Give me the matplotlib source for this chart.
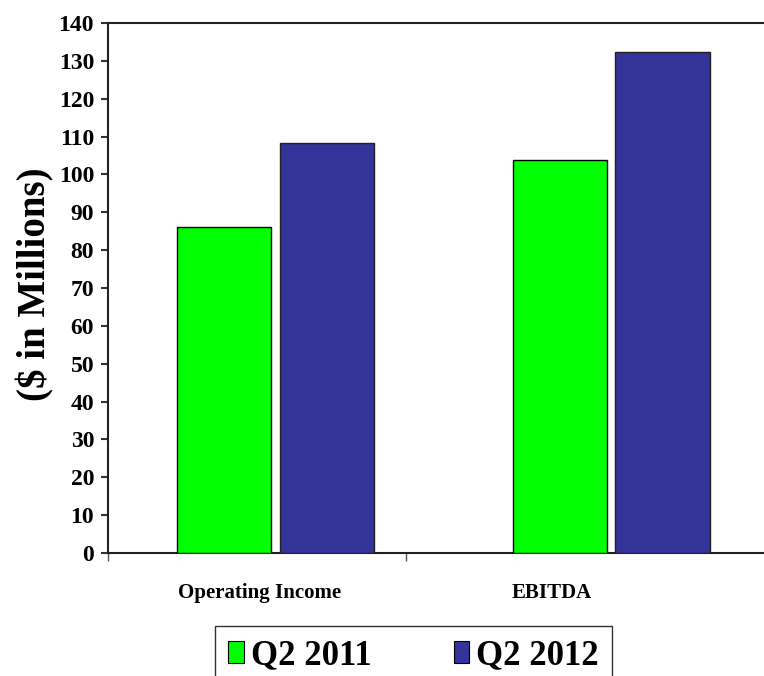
import matplotlib
matplotlib.use("Agg")
import matplotlib.pyplot as plt
from matplotlib.patches import Patch
import numpy as np

categories = ["Operating Income", "EBITDA"]
series_names = ["Q2 2011", "Q2 2012"]
q2_2011 = [86.0, 103.8]
q2_2012 = [108.3, 132.3]
yticks = list(range(0, 141, 10))

colors = ["#00FF00", "#333399"]
serif = ["Liberation Serif", "DejaVu Serif"]

W, H = 764, 676
fig = plt.figure(figsize=(W / 100, H / 100), dpi=100)
ax = fig.add_axes([108 / W, 1 - 553 / H, 656 / W, 530 / H])

x = np.arange(len(categories))
width = 0.28
off = 0.152
ax.bar(x - off, q2_2011, width, color=colors[0], edgecolor="black", linewidth=1.0, zorder=3)
ax.bar(x + off, q2_2012, width, color=colors[1], edgecolor="#222222", linewidth=1.0, zorder=3)

ax.set_xlim(-0.4985, 1.454)
ax.set_ylim(0, 140)
ax.set_yticks(yticks)
ax.set_yticklabels([str(v) for v in yticks], fontfamily=serif, fontweight="bold", fontsize=17)

# category separator ticks
ax.set_xticks([-0.4985, 0.388])
ax.set_xticklabels(["", ""])
ax.tick_params(axis="x", direction="out", length=6, width=1, color="#555555")
ax.tick_params(axis="y", direction="out", length=5, width=1.5, color="#333333", pad=5)

label_pos = [-0.046, 0.823]
for xp, lab in zip(label_pos, categories):
    ax.text(xp, -0.056, lab, transform=ax.get_xaxis_transform(), ha="center", va="top",
            fontfamily=serif, fontweight="bold", fontsize=15)

for s in ["left", "bottom", "top"]:
    ax.spines[s].set_linewidth(1.5)
    ax.spines[s].set_color("#222222")
ax.spines["right"].set_visible(False)

fig.text(35 / W, 1 - 284 / H, "($ in Millions)", rotation=90, ha="center", va="center",
         fontfamily=serif, fontweight="bold", fontsize=28)

handles = [Patch(facecolor=colors[0], edgecolor="black", linewidth=0.8),
           Patch(facecolor=colors[1], edgecolor="black", linewidth=0.8)]
leg = fig.legend(handles, series_names, loc="upper left", ncol=2,
                 bbox_to_anchor=(215 / W, 1 - 626 / H, 397 / W, 0.0), mode="expand",
                 prop={"family": serif, "weight": "bold", "size": 25},
                 frameon=True, fancybox=False, handlelength=0.45, handleheight=0.6,
                 handletextpad=0.2, borderpad=0.38, columnspacing=2.5, borderaxespad=0)
leg.get_frame().set_edgecolor("black")
leg.get_frame().set_linewidth(1.0)

fig.savefig("out.png", dpi=100)
